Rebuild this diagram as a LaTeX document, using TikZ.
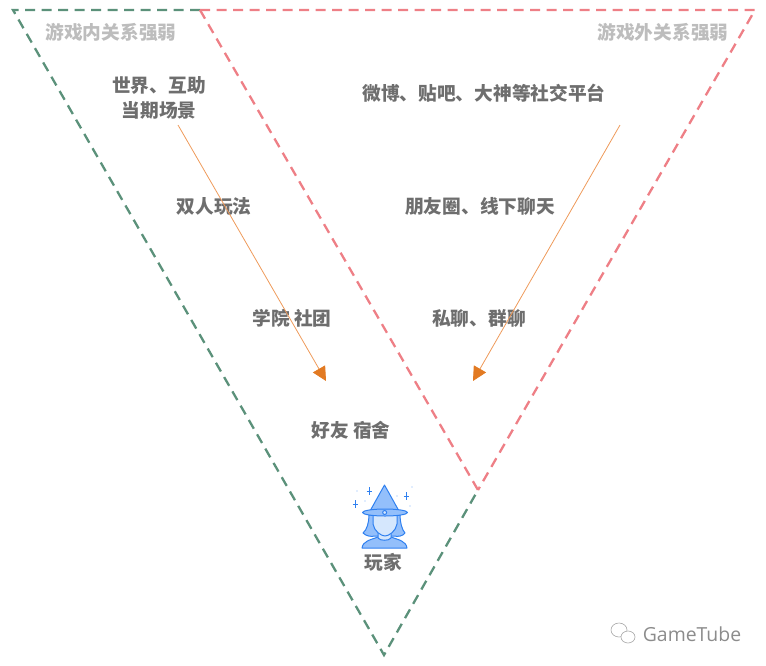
\documentclass[tikz,border=0pt]{standalone}
\usepackage{fontspec}
\setmainfont{Noto Sans CJK SC}
\newfontfamily\latinfont{Open Sans}
\usetikzlibrary{positioning, arrows.meta}
\definecolor{greenline}{HTML}{5B917A}
\definecolor{redline}{HTML}{EE7F86}
\definecolor{arrowline}{HTML}{EE9A5A}
\definecolor{arrowtip}{HTML}{E27A22}
\definecolor{labeltext}{HTML}{6E6E6E}
\definecolor{headtext}{HTML}{BDBDBD}
\definecolor{iconline}{HTML}{2F80F0}
\definecolor{iconfill}{HTML}{93BFFB}
\definecolor{iconlight}{HTML}{D5E7FD}
\tikzset{
  label/.style={font=\fontsize{18.7}{25}\selectfont\bfseries, text=labeltext, align=center, inner sep=0pt},
  head/.style={font=\fontsize{18.7}{25}\selectfont\bfseries, text=headtext, inner sep=0pt},
  edgegreen/.style={draw=greenline, line width=2.3pt, dash pattern=on 10pt off 6.5pt},
  edgered/.style={draw=redline, line width=2.3pt, dash pattern=on 10pt off 6.5pt},
  flow/.style={draw=arrowline, line width=0.8pt, -{Triangle[length=14pt, width=14pt, color=arrowtip]}},
  icon/.style={draw=iconline, line width=1pt, line join=round},
}
\begin{document}
\begin{tikzpicture}[x=1pt, y=-1pt]
  \useasboundingbox (0,0) rectangle (766,665);

  % Corners
  \coordinate (greenstart) at (13,10);
  \coordinate (split) at (200,10);
  \coordinate (redright) at (755,10);
  \coordinate (meet) at (478,490);
  \coordinate (tip) at (384,655);

  % Triangles
  \draw[edgegreen] (split) -- (greenstart) -- (tip) -- (meet);
  \draw[edgered] (split) -- (redright) -- (meet);
  \draw[edgered] (split) -- (meet);

  % Headings
  \node[head] (inhead) at (111,32) {游戏内关系强弱};
  \node[head] (outhead) at (663,32) {游戏外关系强弱};

  % Left column
  \node[label] (world) at (159,98) {世界、互助\\当期场景};
  \node[label] (duo) at (214,206) {双人玩法};
  \node[label] (guild) at (292,318) {学院 社团};
  \node[label] (friend) at (351,430) {好友 宿舍};

  % Right column
  \node[label] (weibo) at (484,93) {微博、贴吧、大神等社交平台};
  \node[label] (moments) at (480,206) {朋友圈、线下聊天};
  \node[label] (chat) at (479,318) {私聊、群聊};

  % Arrows
  \coordinate (inend) at (326,381);
  \coordinate (outend) at (473,381);
  \coordinate (instart) at (178,125);
  \coordinate (outstart) at (620,125);
  \draw[flow] (instart) -- (inend);
  \draw[flow] (outstart) -- (outend);

  % Player
  \draw[icon, fill=iconfill] (362,548) .. controls (363,541) and (370,540) .. (378,537) -- (391,537) .. controls (399,540) and (406,541) .. (407,548) -- cycle;
  \draw[icon, fill=iconfill] (369,515) .. controls (369,522) and (367,530) .. (363,533) .. controls (366,536) and (371,537) .. (375,536) -- (394,536) .. controls (398,537) and (403,536) .. (405,533) .. controls (402,530) and (400,522) .. (400,515) -- cycle;
  \draw[icon, fill=iconlight] (378,532) -- (378,538) .. controls (380,541) and (389,541) .. (391,538) -- (391,532) -- cycle;
  \draw[icon, fill=iconlight] (373,514) -- (373,524) .. controls (374,531) and (381,536) .. (385,536) .. controls (389,536) and (396,531) .. (397,524) -- (397,514) -- cycle;
  \draw[icon, fill=iconfill] (384.5,485) -- (370,511) -- (399,511) -- cycle;
  \draw[icon, fill=iconfill] (385,512.5) ellipse [x radius=22.5, y radius=3.5];
  \draw[icon, fill=iconlight] (384.7,512.5) circle [radius=2];
  \foreach \sx/\sy in {369/491, 355/504, 406/496}
    \draw[draw=iconline, line width=0.8pt] (\sx-2.5,\sy) -- (\sx+2.5,\sy) (\sx,\sy-4) -- (\sx,\sy+4);
  \foreach \sx/\sy in {357/491, 365/501, 412/487, 397/496, 410/506}
    \fill[iconfill!80!iconline] (\sx,\sy) circle [radius=0.7];
  \node[label] (player) at (383,562) {玩家};

  % Watermark
  \node[font=\latinfont\fontsize{19.4}{22}\selectfont, text=black!45, inner sep=0pt] (mark) at (692,634) {GameTube};
  \draw[black!35, line width=0.6pt] (619,630) ellipse [x radius=8, y radius=7];
  \draw[black!35, line width=0.6pt, fill=white] (628,637) ellipse [x radius=7, y radius=6];
\end{tikzpicture}
\end{document}
